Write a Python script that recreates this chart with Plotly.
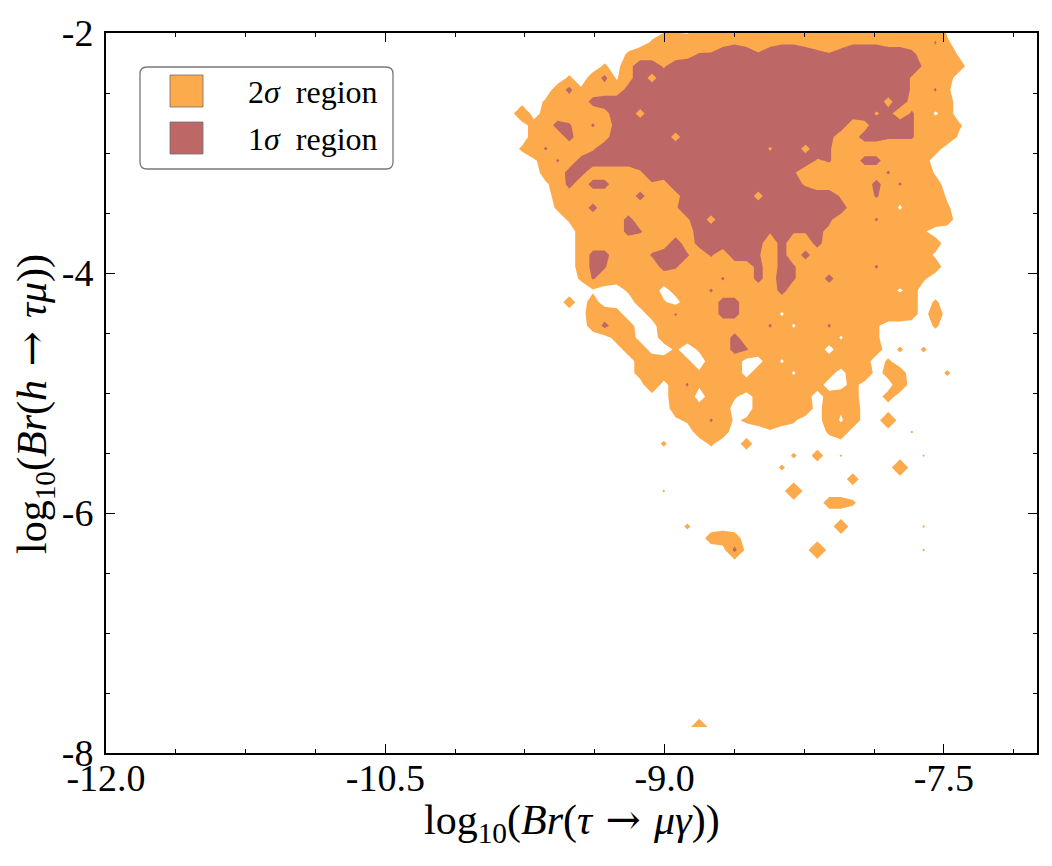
import plotly.graph_objects as go

ORANGE = "#FDAA4C"
RED = "#BD6767"
FONT = "Liberation Serif"

# axis ticks
x_ticks = [-12.0, -10.5, -9.0, -7.5]
x_ticklabels = ["-12.0", "-10.5", "-9.0", "-7.5"]
y_ticks = [-2, -4, -6, -8]
y_ticklabels = ["-2", "-4", "-6", "-8"]

# histogram grid (bin centres) on which the density levels were read
x_first_bin = -9.829
x_bin_width = 0.06344
y_first_bin = -1.9817      # top row
y_bin_height = 0.098333

# contour levels (density code): >=1.5 -> 2 sigma region, >=6.5 -> 1 sigma region
level_2sigma = 1.5
level_1sigma = 6.5

# density code per bin, top row first, 41 columns each
# '.' empty, '2'..'6' inside 2 sigma, '7'..'9' inside 1 sigma, '+' just above 2 sigma
density_rows = [
    "..... ..... ...11 12444 44444 44444 44444 441.. .",
    "..... ..... ..244 33456 54566 54356 66554 372.. .",
    "..... ..... 24444 57799 97999 98789 99998 4441. .",
    "..... ...2. 59969 99999 99999 99999 99999 6443. .",
    "..... 2.381 59599 99999 99999 99999 99996 443.. .",
    "....3 82444 89999 99999 99999 99999 99996 472.. .",
    "...24 44899 99999 99999 99999 99999 99595 443.. .",
    ".5.34 44459 95999 99999 99999 99999 96847 413.. .",
    "..348 74748 99999 99999 99999 99994 59997 4442. .",
    "..344 84459 99995 99999 99999 99845 88777 4441. .",
    ".2474 44699 99999 99999 99699 59744 44444 43... .",
    "..137 48999 99999 99999 99999 96744 88444 3.... .",
    "...34 88444 46999 99999 99997 44444 44744 41... .",
    "...13 84884 44659 99999 99998 64444 48474 43... .",
    "....3 44444 48465 99999 95999 99964 47434 441.. .",
    "....2 44844 44446 99999 99999 99985 44414 442.. .",
    "..... 24444 84444 69599 99999 99754 47444 443.. .",
    "..... .3444 87444 49999 99777 77644 44444 2.... .",
    "..... .3444 44449 48999 98484 48444 44444 43... .",
    "..... .3884 44799 74749 97484 84444 44444 31... .",
    "..... .3873 44487 44444 48487 44444 47444 43... .",
    "..... .2743 44444 44474 48497 44844 44444 2.... .",
    "..... ..1.. 244.3 44744 44484 44444 44313 ..... .",
    "..... 3.3.. .342. 44488 44444 44444 44343 .2... .",
    "..... ..443 ..347 44488 44414 44444 44443 .4... .",
    "..... ..384 3..44 44444 44741 44744 42... .2... .",
    "..... ....3 4..34 33448 44444 44414 42... ..... .",
    "..... ..... 34..2 .2448 74444 44.44 43.2. 2.... .",
    "..... ..... .3434 2.344 ..414 44443 3.2.. ..... .",
    "..... ..... .3344 42444 .4441 443.4 5.33. ..2.. .",
    "..... ..... ..5.4 72444 44444 43..3 ...4. ..... .",
    "..... ..... ....4 4.342 .3444 3.343 ..3.. ..... .",
    "..... ..... ....3 4344. .3444 4.424 ..... ..... .",
    "..... ..... ....1 23741 23432 ..414 ..5.. ..... .",
    "..... ..... ..... .343. ..1.. ..24. ....+ ..... .",
    "..... ..... ...2. ..2.. 3.... ..... ..... ..... .",
    "..... ..... ..... ..... ....2 .3.+. ..... +.... .",
    "..... ..... ..... ..... ...2. ..... ...5. ..... .",
    "..... ..... ..... ..... ..... ....3 ..... ..... .",
    "..... ..... ...+. ..... ....6 ..... ..... ..... .",
    "..... ..... ..... ..... ..... ..332 ..... ..... .",
    "..... ..... ..... ..... ..... ..... ..... ..... .",
    "..... ..... ..... 2.... ..... ...4. ..... +.... .",
    "..... ..... ..... ..343 ..... ..... ..... ..... .",
    "..... ..... ..... ....8 ..... .6... ..... +.... .",
    "..... ..... ..... ..... ..... ..... ..... ..... .",
    "..... ..... ..... ..... ..... ..... ..... ..... .",
    "..... ..... ..... ..... ..... ..... ..... ..... .",
    "..... ..... ..... ..... ..... ..... ..... ..... .",
    "..... ..... ..... ..... ..... ..... ..... ..... .",
    "..... ..... ..... ..... ..... ..... ..... ..... .",
    "..... ..... ..... ..... ..... ..... ..... ..... .",
    "..... ..... ..... ..... ..... ..... ..... ..... .",
    "..... ..... ..... ..... ..... ..... ..... ..... .",
    "..... ..... ..... ..... ..... ..... ..... ..... .",
    "..... ..... ..... ..... ..... ..... ..... ..... .",
    "..... ..... ..... ..... ..... ..... ..... ..... .",
    "..... ..... ..... ..... ..... ..... ..... ..... .",
    "..... ..... ..... ..... ..... ..... ..... ..... .",
    "..... ..... ..... .5... ..... ..... ..... ..... .",
]

NB = "\u00a0"
ARROW = "<span style='font-family:DejaVu Serif'>" + NB + "→" + NB + "</span>"
legend_labels = ["2<i>σ</i>" + NB + NB + "region", "1<i>σ</i>" + NB + NB + "region"]
legend_colors = [ORANGE, RED]
x_title = "log<sub>10</sub>(<i>Br</i>(<i>τ</i>" + ARROW + "<i>μγ</i>))"
y_title = "log<sub>10</sub>(<i>Br</i>(<i>h</i>" + ARROW + "<i>τμ</i>))"

# ---------------------------------------------------------------------------
code_values = {".": 0.0, "+": 1.7}
for d in "123456789":
    code_values[d] = float(d)

rows = [r.replace(" ", "") for r in density_rows]
ncol = max(len(r) for r in rows)
z_top_down = [[code_values[ch] for ch in r.ljust(ncol, ".")] for r in rows]
x_centers = [x_first_bin + i * x_bin_width for i in range(ncol)]
y_centers = [y_first_bin - j * y_bin_height for j in range(len(rows))]
z = z_top_down[::-1]
y_asc = y_centers[::-1]

fig = go.Figure()
fig.add_trace(go.Contour(
    x=x_centers, y=y_asc, z=z,
    autocontour=False,
    contours=dict(start=level_2sigma, end=level_1sigma,
                  size=level_1sigma - level_2sigma,
                  coloring="fill", showlines=False),
    line=dict(width=0, smoothing=0),
    colorscale=[[0.0, "rgba(255,255,255,0)"], [0.5, ORANGE], [1.0, RED]],
    showscale=False, hoverinfo="skip",
))

W, H = 1052, 866
L, R, T, B = 106, 15, 33, 113
pw, ph = W - L - R, H - T - B


def px(xp):
    return (xp - L) / pw


def py(yp):
    return (H - B - yp) / ph


def rounded_rect(x0, y0, x1, y1, r):
    X0, X1 = px(x0), px(x1)
    Y0, Y1 = py(y1), py(y0)
    rx, ry = r / pw, r / ph
    return (f"M {X0+rx},{Y0} L {X1-rx},{Y0} Q {X1},{Y0} {X1},{Y0+ry} "
            f"L {X1},{Y1-ry} Q {X1},{Y1} {X1-rx},{Y1} L {X0+rx},{Y1} "
            f"Q {X0},{Y1} {X0},{Y1-ry} L {X0},{Y0+ry} Q {X0},{Y0} {X0+rx},{Y0} Z")


shapes = [dict(type="path", xref="paper", yref="paper",
               path=rounded_rect(140, 67, 393, 169, 7),
               line=dict(color="rgb(120,120,120)", width=1.3),
               fillcolor="white", layer="above")]
annotations = []
for i, (lab, col) in enumerate(zip(legend_labels, legend_colors)):
    top = 75 + i * 47
    shapes.append(dict(type="rect", xref="paper", yref="paper",
                       x0=px(170), x1=px(203), y0=py(top + 32), y1=py(top),
                       fillcolor=col, line=dict(color="rgb(110,110,110)", width=0.8),
                       layer="above"))
    annotations.append(dict(xref="paper", yref="paper", x=px(246), y=py(top + 17),
                            xanchor="left", yanchor="middle", showarrow=False,
                            text=lab, font=dict(family=FONT, size=32, color="black")))

annotations.append(dict(xref="paper", yref="paper", x=0.5, y=py(822),
                        xanchor="center", yanchor="middle", showarrow=False,
                        text=x_title,
                        font=dict(family=FONT, size=42, color="black")))
annotations.append(dict(xref="paper", yref="paper", x=px(34), y=py(404),
                        xanchor="center", yanchor="middle", showarrow=False,
                        textangle=-90, text=y_title,
                        font=dict(family=FONT, size=42, color="black")))

axis_common = dict(showgrid=False, zeroline=False, showline=True,
                   linecolor="black", linewidth=1.8, mirror="ticks",
                   ticks="inside", ticklen=9, tickwidth=1.1, tickcolor="black",
                   tickfont=dict(family=FONT, size=38, color="black"))

fig.update_layout(
    width=W, height=H,
    margin=dict(l=L, r=R, t=T, b=B),
    paper_bgcolor="white", plot_bgcolor="white",
    showlegend=False,
    shapes=shapes, annotations=annotations,
    xaxis=dict(range=[-12.0, -7.0], tickmode="array", tickvals=x_ticks,
               ticktext=x_ticklabels, ticklabelstandoff=-10,
               minor=dict(ticks="inside", ticklen=4.5, tickwidth=1,
                          tickcolor="black", dtick=0.375, tick0=-12.0,
                          showgrid=False),
               **axis_common),
    yaxis=dict(range=[-8.0, -2.0], tickmode="array", tickvals=y_ticks,
               ticktext=y_ticklabels, ticklabelstandoff=3,
               minor=dict(ticks="inside", ticklen=4.5, tickwidth=1,
                          tickcolor="black", dtick=0.5, tick0=-8.0,
                          showgrid=False),
               **axis_common),
)

fig.write_html("out.html")
